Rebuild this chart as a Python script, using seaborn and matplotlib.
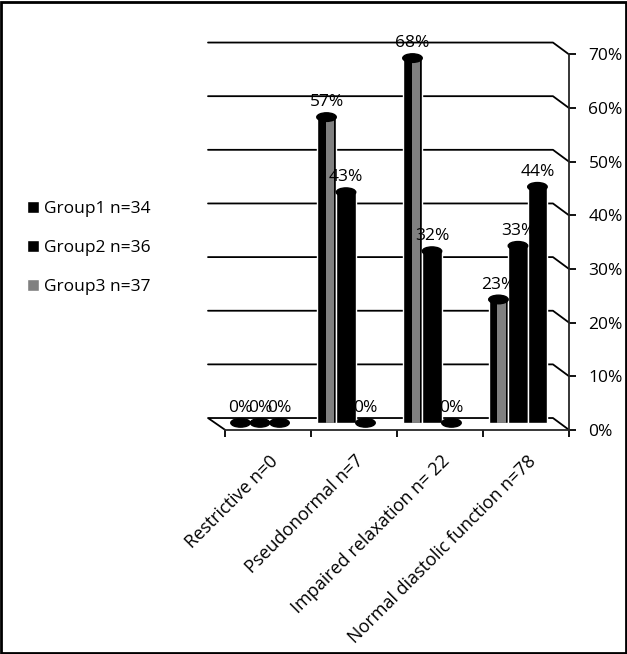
import matplotlib
matplotlib.use("Agg")
import matplotlib.pyplot as plt
import pandas as pd
import seaborn as sns
from matplotlib.patches import Ellipse, Rectangle, Patch

# data (percent of each group)
categories = ["Restrictive n=0", "Pseudonormal n=7",
              "Impaired relaxation n= 22", "Normal diastolic function n=78"]
groups = ["Group1 n=34", "Group2 n=36", "Group3 n=37"]
group1 = [0, 57, 68, 23]
group2 = [0, 43, 32, 33]
group3 = [0, 0, 0, 44]
yticks = [0, 10, 20, 30, 40, 50, 60, 70]

df = pd.DataFrame({
    "category": categories * 3,
    "group": [g for g in groups for _ in categories],
    "pct": group1 + group2 + group3,
})
df["frac"] = df["pct"] / 100

sns.set_style("white")
plt.rcParams["font.family"] = ["Open Sans", "DejaVu Sans"]
plt.rcParams["text.color"] = "black"
plt.rcParams["xtick.color"] = "black"
plt.rcParams["ytick.color"] = "black"
fs = 12.5

fig = plt.figure(figsize=(6.27, 6.54), dpi=100)
ax = fig.add_axes([0.319, 0.3272, 0.598, 0.6422])

sns.barplot(data=df, x="category", y="frac", hue="group", hue_order=groups,
            order=categories, palette=["black", "black", "black"], width=0.68,
            gap=0, saturation=1, errorbar=None, legend=False, ax=ax)

# fake 3D box: back wall gridlines, floor, depth offset
depth = 0.022
base = -0.009
back_left, back_right = -0.605, 3.407
front_left = -0.407
front_right = front_left + 4
for t in yticks[1:]:
    v = t / 100
    ax.plot([back_left, back_right, front_right], [v, v, v - depth],
            color="black", lw=1.3, zorder=0)
ax.plot([front_left, back_left, back_right, front_right],
        [-depth, 0, 0, -depth], color="black", lw=1.3, zorder=0)

# cylinder look
for i, c in enumerate(ax.containers):
    for bar in c:
        bar.set_zorder(2)
        bar.set_y(base)
        x, w, h = bar.get_x(), bar.get_width(), bar.get_height()
        if i == 0 and h > 0:
            ax.add_patch(Rectangle((x + 0.45 * w, base), 0.42 * w, h,
                                   color="#808080", zorder=2.5, lw=0))
        ax.add_patch(Ellipse((x + w / 2, base + h), w, 0.016,
                             color="black", zorder=3))
    ax.bar_label(c, labels=[f"{round(v * 100)}%" for v in c.datavalues],
                 padding=5, fontsize=fs, zorder=4)

# right value axis on the front edge
for s in ["left", "top"]:
    ax.spines[s].set_visible(False)
ax.yaxis.tick_right()
ax.spines["right"].set_position(("data", front_right))
ax.spines["right"].set_bounds(-depth, 0.7 - depth)
ax.set_yticks([t / 100 - depth for t in yticks],
              labels=[f"{t}%" for t in yticks], fontsize=fs)
ax.tick_params(axis="y", direction="out", length=5, width=1.3, pad=9)
ax.spines["right"].set_linewidth(1.3)

ax.spines["bottom"].set_position(("data", -depth))
ax.spines["bottom"].set_bounds(front_left, front_right)
ax.spines["bottom"].set_linewidth(1.3)
ax.set_xticks([i + 0.1 for i in range(4)])
ax.set_xticklabels(categories, rotation=45, ha="right",
                   rotation_mode="anchor", fontsize=13)
ax.set_xticks([front_left + i for i in range(5)], minor=True)
ax.tick_params(axis="x", which="major", length=0, pad=16)
ax.tick_params(axis="x", which="minor", direction="out", length=5,
               width=1.3, bottom=True)
ax.set_xlabel("")
ax.set_ylabel("")
ax.set_xlim(-0.698, 3.663)
ax.set_ylim(-0.041, 0.742)

handles = [Patch(fc="black"), Patch(fc="black"), Patch(fc="#808080")]
fig.legend(handles, groups, loc="center left",
           bbox_to_anchor=(0.018, 1 - 248 / 654), frameon=False,
           handlelength=0.7, handleheight=0.7, handletextpad=0.3,
           labelspacing=1.3, fontsize=fs)

fig.add_artist(Rectangle((0.002, 0.002), 0.996, 0.995, transform=fig.transFigure,
                         fill=False, ec="black", lw=2))

fig.savefig("out.png", dpi=100)
